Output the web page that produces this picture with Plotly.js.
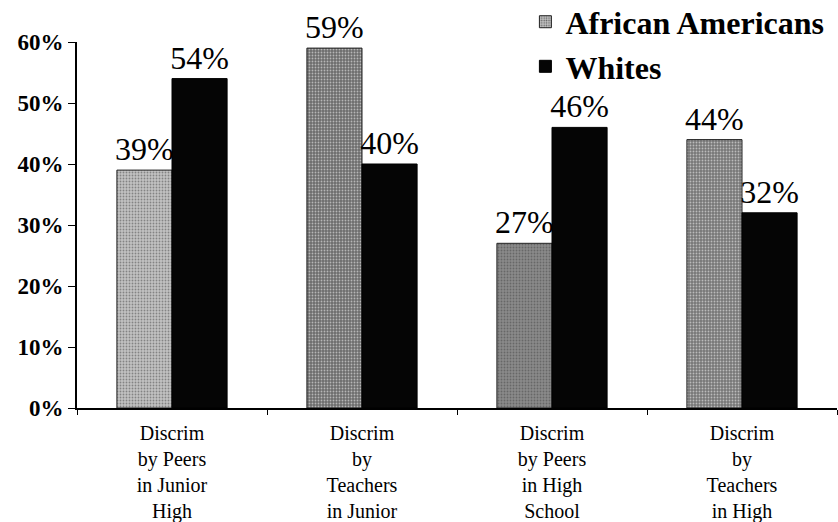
<!DOCTYPE html>
<html>
<head>
<meta charset="utf-8">
<script src="https://cdn.plot.ly/plotly-3.0.1.min.js"></script>
<style>html,body{margin:0;padding:0;background:#fff;}</style>
</head>
<body>
<div id="chart" style="width:838px;height:522px;"></div>
<script>
const categories = ["peersJunior", "teachersJunior", "peersHigh", "teachersHigh"];
const tickLabels = [
  "Discrim<br>by Peers<br>in Junior<br>High",
  "Discrim<br>by<br>Teachers<br>in Junior",
  "Discrim<br>by Peers<br>in High<br>School",
  "Discrim<br>by<br>Teachers<br>in High"
];
const africanAmericans = [39, 59, 27, 44];
const whites = [54, 40, 46, 32];
const yTickVals = [0, 10, 20, 30, 40, 50, 60];
const yTickLabels = ["0%", "10%", "20%", "30%", "40%", "50%", "60%"];
const seriesNames = ["African Americans", "Whites"];

const serif = "Liberation Serif";

const traces = [
  {
    type: "bar",
    name: seriesNames[0],
    x: categories,
    y: africanAmericans,
    text: africanAmericans.map(v => v + "%"),
    textposition: "outside",
    constraintext: "none",
    cliponaxis: false,
    textfont: {family: serif, size: 32, color: "#000"},
    marker: {
      color: ["#c2c2c2", "#6c6c6c", "#8a8a8a", "#777777"],
      line: {color: "#222", width: 1},
      pattern: {shape: ".", fgcolor: "#000", size: 3, solidity: 0.3, fillmode: "overlay"}
    }
  },
  {
    type: "bar",
    name: seriesNames[1],
    x: categories,
    y: whites,
    text: whites.map(v => v + "%"),
    textposition: "outside",
    constraintext: "none",
    cliponaxis: false,
    textfont: {family: serif, size: 32, color: "#000"},
    marker: {color: "#050505", line: {color: "#000", width: 1}}
  }
];

const layout = {
  width: 838,
  height: 522,
  font: {family: serif, color: "#000"},
  margin: {l: 77, r: 1, t: 42, b: 114, autoexpand: false},
  paper_bgcolor: "#fff",
  plot_bgcolor: "#fff",
  barmode: "group",
  bargap: 0.42,
  bargroupgap: 0,
  showlegend: true,
  legend: {
    x: 0.59, xanchor: "left",
    y: 1.13, yanchor: "top",
    font: {family: serif, size: 32, color: "#000", weight: "bold"},
    bgcolor: "rgba(0,0,0,0)",
    itemwidth: 30,
    tracegroupgap: 0
  },
  xaxis: {
    type: "category",
    tickvals: categories,
    ticktext: tickLabels,
    showline: true,
    linecolor: "#000",
    linewidth: 2,
    ticks: "outside",
    tickson: "boundaries",
    ticklen: 5,
    tickcolor: "#000",
    ticklabelstandoff: 6,
    tickfont: {family: serif, size: 20, color: "#000"},
    showgrid: false,
    zeroline: false,
    automargin: false
  },
  yaxis: {
    range: [0, 60],
    tickvals: yTickVals,
    ticktext: yTickLabels,
    showline: true,
    linecolor: "#000",
    linewidth: 2,
    ticks: "outside",
    ticklen: 7,
    tickcolor: "#000",
    tickfont: {family: serif, size: 23, color: "#000", weight: "bold"},
    showgrid: false,
    zeroline: false,
    automargin: false
  }
};

Plotly.newPlot("chart", traces, layout, {displayModeBar: false, staticPlot: true});
</script>
</body>
</html>
